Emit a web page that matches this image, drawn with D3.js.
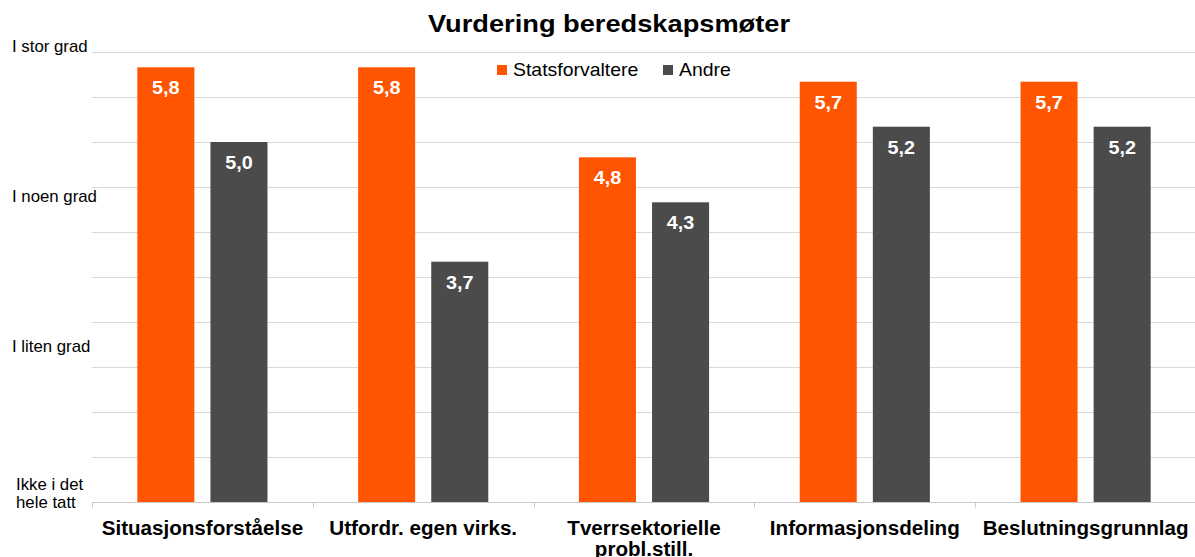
<!DOCTYPE html>
<html>
<head>
<meta charset="utf-8">
<script src="https://cdn.jsdelivr.net/npm/d3@7"></script>
<style>
  body { margin: 0; background: #fff; }
  svg { font-family: "Liberation Sans", Arial, sans-serif; display: block; }
</style>
</head>
<body>
<div id="chart"></div>
<script>
// data
const categories = ['Situasjonsforståelse', 'Utfordr. egen virks.', 'Tverrsektorielle probl.still.', 'Informasjonsdeling', 'Beslutningsgrunnlag'];
const seriesNames = ['Statsforvaltere', 'Andre'];
const statsforvaltere = [5.83, 5.83, 4.83, 5.67, 5.67];
const andre = [5.0, 3.67, 4.33, 5.17, 5.17];
const scaleLabels = [
  { v: 6, text: ['I stor grad'] },
  { v: 4.333, text: ['I noen grad'] },
  { v: 2.667, text: ['I liten grad'] },
  { v: 1, text: ['Ikke i det', 'hele tatt'] }
];

const colors = ['#ff5500', '#4b4b4b'];
const width = 1195, height = 557;
const margin = { top: 52, right: -1, bottom: 55, left: 92 };

const svg = d3.select('#chart').append('svg')
  .attr('width', width)
  .attr('height', height);

// text that is a bit wider than Liberation Sans renders it
function label(parent, x, yy, sx) {
  return parent.append('text')
    .attr('transform', 'translate(' + x + ',' + yy + ') scale(' + sx + ',1)');
}

const x0 = d3.scaleBand()
  .domain(categories)
  .range([margin.left, width - margin.right])
  .paddingInner(0)
  .paddingOuter(0);

const x1 = d3.scaleBand()
  .domain(seriesNames)
  .range([0, x0.bandwidth()])
  .paddingInner(0.22)
  .paddingOuter(0.62);

const y = d3.scaleLinear()
  .domain([1, 6])
  .range([height - margin.bottom, margin.top]);

// gridlines
svg.append('g')
  .selectAll('line')
  .data(d3.range(1.5, 6.01, 0.5))
  .enter().append('line')
  .attr('x1', margin.left)
  .attr('x2', width)
  .attr('y1', d => Math.round(y(d)) + 0.5)
  .attr('y2', d => Math.round(y(d)) + 0.5)
  .attr('stroke', '#d9d9d9')
  .attr('stroke-width', 1);

// bars
const groups = svg.append('g')
  .selectAll('g')
  .data(categories)
  .enter().append('g')
  .attr('transform', d => 'translate(' + x0(d) + ',0)');

const rows = (c, i) => [
  { s: seriesNames[0], v: statsforvaltere[i], c: colors[0] },
  { s: seriesNames[1], v: andre[i], c: colors[1] }
];

groups.each(function (c, i) {
  const g = d3.select(this);
  rows(c, i).forEach(function (d) {
    g.append('rect')
      .attr('x', x1(d.s))
      .attr('width', x1.bandwidth())
      .attr('y', y(d.v))
      .attr('height', y(1) - y(d.v))
      .attr('fill', d.c);
    label(g, x1(d.s) + x1.bandwidth() / 2, y(d.v) + 27, 1.1)
      .attr('text-anchor', 'middle')
      .attr('fill', '#fff')
      .attr('font-weight', 'bold')
      .attr('font-size', 18)
      .text(d.v.toFixed(1).replace('.', ','));
  });
});

// x axis
const xAxis = svg.append('g')
  .attr('transform', 'translate(0,' + (Math.round(y(1)) + 0.5) + ')');
xAxis.append('line')
  .attr('x1', margin.left).attr('x2', width)
  .attr('stroke', '#c8c8c8');
xAxis.selectAll('line.tick')
  .data(d3.range(categories.length + 1))
  .enter().append('line')
  .attr('class', 'tick')
  .attr('x1', i => Math.round(margin.left + i * x0.step()) + 0.5)
  .attr('x2', i => Math.round(margin.left + i * x0.step()) + 0.5)
  .attr('y1', 0).attr('y2', 5)
  .attr('stroke', '#c8c8c8');

const catLines = {
  'Tverrsektorielle probl.still.': ['Tverrsektorielle', 'probl.still.']
};
categories.forEach(function (d) {
  const t = label(xAxis, x0(d) + x0.bandwidth() / 2, 32, 1.03)
    .attr('text-anchor', 'middle')
    .attr('font-weight', 'bold')
    .attr('font-size', 20)
    .attr('fill', '#000');
  (catLines[d] || [d]).forEach(function (l, i) {
    t.append('tspan').attr('x', 0).attr('y', i * 22).text(l);
  });
});

// scale labels on the left
scaleLabels.forEach(function (s) {
  const n = s.text.length;
  const t = label(svg, n > 1 ? 16 : 12, n > 1 ? 490 : y(s.v), 1.05)
    .attr('font-size', 16)
    .attr('fill', '#000');
  s.text.forEach(function (line, i) {
    t.append('tspan').attr('x', 0).attr('y', i * 18).text(line);
  });
});

// title
label(svg, 609, 32, 1.135)
  .attr('text-anchor', 'middle')
  .attr('font-weight', 'bold')
  .attr('font-size', 24)
  .text('Vurdering beredskapsmøter');

// legend
const legend = svg.append('g');
const legendX = [497, 663];
seriesNames.forEach(function (name, i) {
  legend.append('rect')
    .attr('x', legendX[i]).attr('y', 65)
    .attr('width', 10).attr('height', 10)
    .attr('fill', colors[i]);
  label(legend, legendX[i] + 16, 76, 1.08)
    .attr('font-size', 18)
    .text(name);
});
</script>
</body>
</html>
